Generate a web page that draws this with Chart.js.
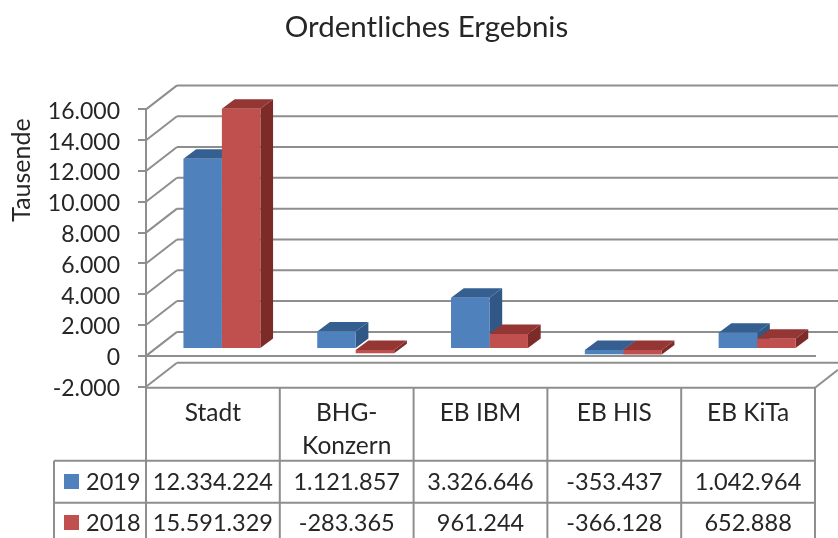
<!DOCTYPE html>
<html>
<head>
<meta charset="utf-8">
<title>Ordentliches Ergebnis</title>
<script src="https://cdn.jsdelivr.net/npm/chart.js@4/dist/chart.umd.js"></script>
<style>
    html, body { margin: 0; padding: 0; background: #fff; overflow: hidden; }
    canvas { display: block; filter: blur(0.4px); }
</style>
</head>
<body>
<canvas id="ergebnis-chart" width="838" height="538"></canvas>
<script>
const categories = ['Stadt', 'BHG-Konzern', 'EB IBM', 'EB HIS', 'EB KiTa'];
const categoryLines = [['Stadt'], ['BHG-', 'Konzern'], ['EB IBM'], ['EB HIS'], ['EB KiTa']];
const years = ['2019', '2018'];
const values2019 = [12334224, 1121857, 3326646, -353437, 1042964];
const values2018 = [15591329, -283365, 961244, -366128, 652888];
const axisMin = -2000000;
const axisMax = 16000000;
const axisStep = 2000000;

const blue = { front: '#4f81bd', top: '#365f91', side: '#315786' };
const red = { front: '#c0504d', top: '#943634', side: '#7d2b29' };
const colours = [blue, red];
const lineColour = '#8e8e8e';
const textColour = '#262626';
const fontName = 'Lato';

// 3D offsets: back wall, bar plane and bar depth
const wall = { x: 31, y: -24 };
const shift = { x: 9, y: -7 };
const depth = { x: 12.7, y: -9.5 };

function line(ctx, x1, y1, x2, y2) {
    ctx.beginPath();
    ctx.moveTo(x1, y1);
    ctx.lineTo(x2, y2);
    ctx.stroke();
}

function poly(ctx, pts, colour) {
    ctx.fillStyle = colour;
    ctx.beginPath();
    pts.forEach((p, i) => i ? ctx.lineTo(p[0], p[1]) : ctx.moveTo(p[0], p[1]));
    ctx.closePath();
    ctx.fill();
}

const walls3d = {
    id: 'walls3d',
    beforeDatasetsDraw(chart) {
        const { ctx, chartArea, scales } = chart;
        ctx.save();
        ctx.strokeStyle = lineColour;
        ctx.lineWidth = 2;

        // back wall and left wall grid
        for (let v = axisMin; v <= axisMax; v += axisStep) {
            const y = scales.y.getPixelForValue(v);
            line(ctx, chartArea.left, y, chartArea.left + wall.x, y + wall.y);
            line(ctx, chartArea.left + wall.x, y + wall.y, 838, y + wall.y);
        }
        // floor edge at zero and right corner
        const zero = scales.y.getPixelForValue(0);
        line(ctx, chartArea.left, zero, chartArea.right + 1, zero);
        const bottom = scales.y.getPixelForValue(axisMin) + 1;
        line(ctx, chartArea.right, bottom, 838, bottom - 18);

        // bar sides and tops, left to right so the later bar covers the earlier one
        categories.forEach((c, j) => {
            colours.forEach((col, i) => {
                const bar = chart.getDatasetMeta(i).data[j].getProps(['x', 'y', 'base', 'width'], true);
                const l = bar.x - bar.width / 2 + shift.x;
                const r = bar.x + bar.width / 2 + shift.x;
                const top = Math.min(bar.y, bar.base) + shift.y;
                const low = Math.max(bar.y, bar.base) + shift.y;
                poly(ctx, [[r, top], [r + depth.x, top + depth.y], [r + depth.x, low + depth.y], [r, low]], col.side);
                poly(ctx, [[l, top], [l + depth.x, top + depth.y], [r + depth.x, top + depth.y], [r, top]], col.top);
            });
        });
        ctx.restore();
    },
    // native bars are the front faces, moved onto the bar plane
    beforeDatasetDraw(chart) {
        chart.ctx.save();
        chart.ctx.translate(shift.x, shift.y);
    },
    afterDatasetDraw(chart) {
        chart.ctx.restore();
    }
};

const dataTable = {
    id: 'dataTable',
    afterDraw(chart) {
        const { ctx, chartArea, scales } = chart;
        const tableLeft = 54;
        const headTop = chartArea.bottom + 1;
        const rowLines = [460.7, 502.7, 544.7];
        const rowText = [482, 523];
        const colWidth = (chartArea.right - chartArea.left) / categories.length;

        ctx.save();
        ctx.strokeStyle = lineColour;
        ctx.lineWidth = 2;
        line(ctx, chartArea.left, headTop, chartArea.right, headTop);
        rowLines.forEach(y => line(ctx, tableLeft, y, chartArea.right, y));
        line(ctx, tableLeft, rowLines[0], tableLeft, 538);
        for (let j = 0; j <= categories.length; j++) {
            const x = chartArea.left + j * colWidth;
            line(ctx, x, headTop, x, 538);
        }

        ctx.fillStyle = textColour;
        ctx.font = '24.5px ' + fontName;
        ctx.textAlign = 'center';
        ctx.textBaseline = 'middle';
        categoryLines.forEach((lines, j) => {
            const x = scales.x.getPixelForValue(j);
            lines.forEach((t, k) => ctx.fillText(t, x, 413 + k * 33));
        });
        ctx.font = '23.5px ' + fontName;
        [values2019, values2018].forEach((vals, i) => {
            vals.forEach((v, j) => {
                ctx.fillText(v.toLocaleString('de-DE'), scales.x.getPixelForValue(j), rowText[i]);
            });
        });

        // row headers with colour key
        years.forEach((y, i) => {
            ctx.fillStyle = colours[i].front;
            ctx.fillRect(64, rowText[i] - 8, 15, 15);
            ctx.fillStyle = textColour;
            ctx.textAlign = 'left';
            ctx.fillText(y, 86, rowText[i]);
        });

        // axis title sits high up next to the axis
        ctx.font = '25px ' + fontName;
        ctx.translate(22, 170);
        ctx.rotate(-Math.PI / 2);
        ctx.textAlign = 'center';
        ctx.fillText('Tausende', 0, 0);
        ctx.restore();
    }
};

new Chart(document.getElementById('ergebnis-chart').getContext('2d'), {
    type: 'bar',
    data: {
        labels: categories,
        datasets: [
            { label: years[0], data: values2019, backgroundColor: blue.front, clip: false },
            { label: years[1], data: values2018, backgroundColor: red.front, clip: false }
        ]
    },
    options: {
        responsive: false,
        animation: false,
        categoryPercentage: 0.575,
        barPercentage: 1,
        layout: {
            padding: { left: 38, right: 23, top: 0, bottom: 151.3 }
        },
        plugins: {
            legend: { display: false },
            tooltip: { enabled: false },
            title: {
                display: true,
                text: 'Ordentliches Ergebnis',
                color: textColour,
                font: { family: fontName, size: 29.5, weight: 'normal' },
                padding: { top: 10, bottom: 64 }
            }
        },
        scales: {
            x: { display: false },
            y: {
                min: axisMin,
                max: axisMax,
                afterFit(scale) { scale.width = 108; },
                border: { color: lineColour, width: 2 },
                grid: { drawOnChartArea: false, color: lineColour, lineWidth: 2, tickLength: 8 },
                ticks: {
                    stepSize: axisStep,
                    padding: 18,
                    labelOffset: 2,
                    color: textColour,
                    font: { family: fontName, size: 23 },
                    callback: v => (v / 1000).toLocaleString('de-DE')
                }
            }
        }
    },
    plugins: [walls3d, dataTable]
});
</script>
</body>
</html>
